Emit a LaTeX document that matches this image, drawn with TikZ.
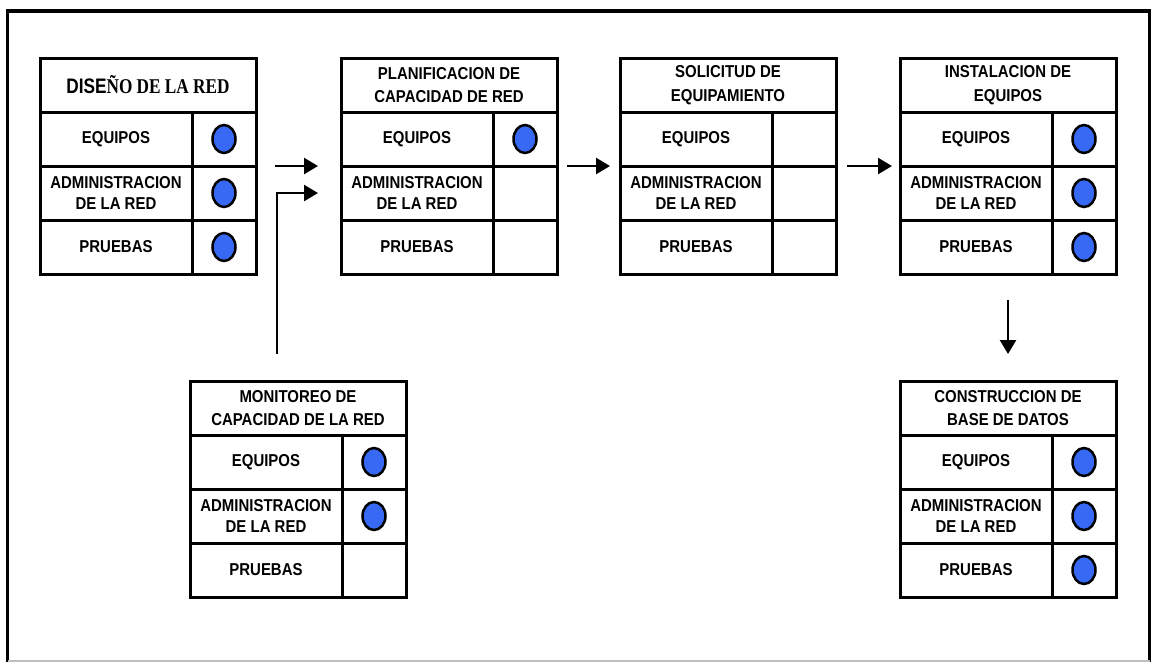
\documentclass[tikz,border=0pt]{standalone}
\usepackage{fontspec}
\setmainfont{Liberation Sans}
\newfontfamily\cellfont[FakeStretch=0.87]{Liberation Sans}
\newfontfamily\headsans[FakeStretch=0.82]{Liberation Sans}
\newfontfamily\headserif[FakeStretch=0.82]{Liberation Serif}
\definecolor{dotBlue}{RGB}{55, 105, 245}
\usetikzlibrary{positioning, arrows.meta, shapes.geometric}

\begin{document}
\begin{tikzpicture}[
    x=1pt, y=-1pt,
    cell/.style={rectangle, draw, line width=3pt, inner sep=0pt, outer sep=0pt,
                 align=center, minimum height=54pt,
                 font=\cellfont\bfseries\fontsize{17.2}{21.5}\selectfont},
    titlecell/.style={cell, minimum width=216pt, anchor=north west,
                 font=\cellfont\bfseries\fontsize{17.2}{23.5}\selectfont},
    itemcell/.style={cell, minimum width=152pt, anchor=north west},
    dotcell/.style={cell, minimum width=64pt},
    bluedot/.style={ellipse, draw, line width=2.5pt, fill=dotBlue,
                 minimum width=23pt, minimum height=28pt, inner sep=0pt},
    arrow/.style={-{Triangle[length=14pt, width=16pt]}, line width=2.5pt},
  ]
    \useasboundingbox (0,0) rectangle (1152,662);

    % outer frame
    \draw[line width=3.5pt] (7.5,662) -- (7.5,11) -- (1149.5,11) -- (1149.5,662);
    \draw[black!25, line width=1.5pt] (7.5,661) -- (1149.5,661);

    % tables
    \foreach \n/\pos/\ttl in {
        dis/{40,58}/{\fontsize{21}{24}\selectfont\headsans DISE\headserif ÑO DE LA RED},
        pla/{341,58}/{PLANIFICACION DE\\CAPACIDAD DE RED},
        sol/{620,58}/{SOLICITUD DE\\EQUIPAMIENTO},
        ins/{900,58}/{INSTALACION DE\\EQUIPOS},
        mon/{190,381}/{MONITOREO DE\\CAPACIDAD DE LA RED},
        con/{900,381}/{CONSTRUCCION DE\\BASE DE DATOS}} {
      \node[titlecell] (\n) at (\pos) {\ttl};
      \foreach \txt [count=\i] in {EQUIPOS, {ADMINISTRACION\\DE LA RED}, PRUEBAS} {
        \node[itemcell] (\n-\i) at ([yshift={-(\i-1)*54pt}]\n.south west) {\txt};
        \node[dotcell, right=0pt of \n-\i] (\n-d\i) {};
      }
    }

    % marks
    \foreach \c in {dis-d1, dis-d2, dis-d3, pla-d1, ins-d1, ins-d2, ins-d3,
                    mon-d1, mon-d2, con-d1, con-d2, con-d3}
      \node[bluedot] (dot-\c) at (\c) {};

    \draw[arrow] ([xshift=19pt]dis-d1.south east) -- ([xshift=-23pt]pla-1.south west);
    \draw[arrow] ([xshift=87pt, yshift=27pt]mon.north west) |- ([xshift=-23pt]pla-2.west);
    \draw[arrow] ([xshift=10pt]pla-d1.south east) -- ([xshift=-10pt]sol-1.south west);
    \draw[arrow] ([xshift=11pt]sol-d1.south east) -- ([xshift=-8pt]ins-1.south west);
    \draw[arrow] ([yshift=81pt]con.north) -- ([yshift=27pt]con.north);
  \end{tikzpicture}
\end{document}
